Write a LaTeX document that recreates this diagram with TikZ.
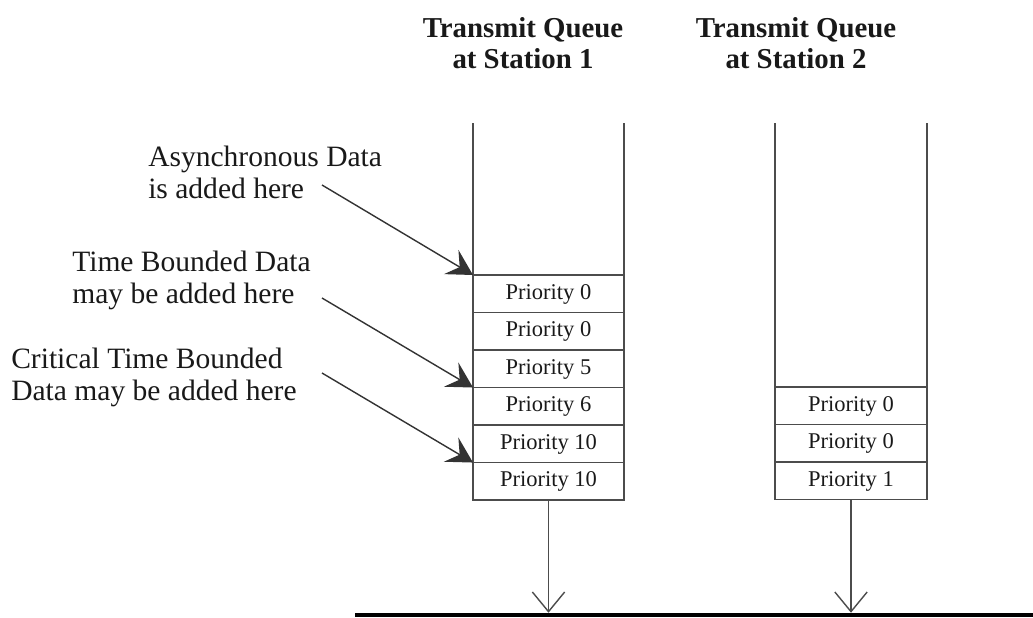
\documentclass[tikz,border=0pt]{standalone}
\usepackage{fontspec}
\setmainfont{Liberation Serif}
\usetikzlibrary{positioning,arrows.meta}

\begin{document}
\begin{tikzpicture}[x=0.025cm, y=-0.025cm]
\tikzstyle{every node} = [inner sep=0pt, text=black!90]
\tikzstyle{cell} = [draw=black!70, line width=1.1pt, minimum width=3.775cm, minimum height=0.9375cm, outer sep=0pt, text height=7.5pt, text depth=0pt, font=\fontsize{16}{19}\selectfont]
\tikzstyle{note} = [align=left, anchor=west, font=\fontsize{21}{22.8}\selectfont]
\tikzstyle{title} = [align=center, font=\fontsize{20.5}{22.5}\selectfont\bfseries]
\tikzstyle{wall} = [draw=black!70, line width=1.1pt]
\tikzstyle{push} = [-{Stealth[length=18pt, width=20pt, inset=7pt]}, draw=black!80, line width=1pt]
\tikzstyle{drop} = [-{Straight Barb[length=14pt, width=23pt]}, draw=black!70, line width=1pt, shorten >=1.6pt]
\useasboundingbox (0,0) rectangle (1033,618);
% titles
\node[title] (t1) at (523,43) {Transmit Queue\\at Station 1};
\node[title] (t2) at (796,43) {Transmit Queue\\at Station 2};
% queue at station 1
\node[cell] (q1c1) at (548.5,293.75) {Priority 0};
\node[cell, below=0pt of q1c1] (q1c2) {Priority 0};
\node[cell, below=0pt of q1c2] (q1c3) {Priority 5};
\node[cell, below=0pt of q1c3] (q1c4) {Priority 6};
\node[cell, below=0pt of q1c4] (q1c5) {Priority 10};
\node[cell, below=0pt of q1c5] (q1c6) {Priority 10};
% queue at station 2
\node[cell, minimum width=3.8cm] (q2c1) at (851,405.75) {Priority 0};
\node[cell, minimum width=3.8cm, below=0pt of q2c1] (q2c2) {Priority 0};
\node[cell, minimum width=3.8cm, below=0pt of q2c2] (q2c3) {Priority 1};
% walls
\coordinate (top) at (0,123);
\foreach \c in {q1c1.north west, q1c1.north east, q2c1.north west, q2c1.north east}
\draw[wall] (\c |- top) -- (\c);
% notes
\node[note] (n1) at (148,172) {Asynchronous Data\\is added here};
\node[note] (n2) at (72,280) {Time Bounded Data\\may be added here};
\node[note] (n3) at (11,377) {Critical Time Bounded\\Data may be added here};
\coordinate (s1) at (322,185);
\coordinate (s2) at (322,298);
\coordinate (s3) at (322,373);
\foreach \from/\to in {s1/q1c1.north west, s2/q1c4.north west, s3/q1c6.north west}
\draw[push] (\from) -- (\to);
% bus
\coordinate (busL) at (355,615);
\coordinate (busR) at (1033,615);
\draw[line width=3.5pt] (busL) -- (busR);
\foreach \c in {q1c6, q2c3}
\draw[drop] (\c.south) -- (\c.south |- busL);
\end{tikzpicture}
\end{document}
